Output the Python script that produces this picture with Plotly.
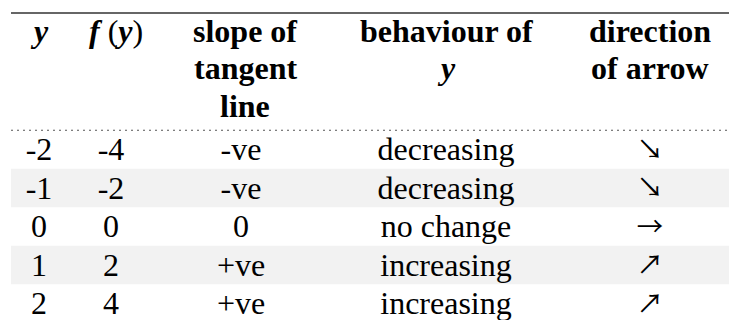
import plotly.graph_objects as go

# ---- data ----
y_values = ["-2", "-1", "0", "1", "2"]
f_values = ["-4", "-2", "0", "2", "4"]
slope_values = ["-ve", "-ve", "0", "+ve", "+ve"]
behaviour_values = ["decreasing", "decreasing", "no change", "increasing", "increasing"]
arrow_values = ["↘", "↘", "→", "↗", "↗"]

header_col1 = ["<b><i>y</i></b>"]
header_col2 = ["<b><i>f</i></b>\u2005(<b><i>y</i></b>)"]
header_col3 = ["<b>slope of</b>", "<b>tangent</b>", "<b>line</b>"]
header_col4 = ["<b>behaviour of</b>", "<b><i>y</i></b>"]
header_col5 = ["<b>direction</b>", "<b>of arrow</b>"]

# ---- layout constants (pixels) ----
W, H = 730, 320
left, right = 11, 729
row0_center = 149.5
row_pitch = 38.5
text_dy = 0.07
body_x = [39, 111, 241, 446, 650]
head_x = [39, 116, 245, 446, 650]
head_line_px = [31, 68, 106]
rule_px = 13

serif = "Liberation Serif"
arrow_font = "Noto Sans CJK JP"
band = "#f2f2f2"

columns = [y_values, f_values, slope_values, behaviour_values, arrow_values]
headers = [header_col1, header_col2, header_col3, header_col4, header_col5]
n = len(y_values)
rows = list(range(n))

fig = go.Figure()
for ci, col in enumerate(columns):
    is_arrow = ci == 4
    fig.add_trace(go.Scatter(
        x=[body_x[ci]] * n,
        y=[k + text_dy for k in rows],
        mode="text",
        text=col,
        textposition="middle center",
        textfont=dict(family=arrow_font if is_arrow else serif,
                      size=26.5 if is_arrow else 32, color="#000"),
        hoverinfo="skip",
        showlegend=False,
        cliponaxis=False,
    ))

# banded rows
for k in rows:
    if k % 2 == 1:
        fig.add_shape(type="rect", xref="paper", yref="y",
                      x0=left / W, x1=right / W, y0=k - 0.5, y1=k + 0.5,
                      fillcolor=band, line=dict(width=0), layer="below")

# rules
fig.add_shape(type="line", xref="paper", yref="paper",
              x0=left / W, x1=right / W, y0=1 - rule_px / H, y1=1 - rule_px / H,
              line=dict(color="#666666", width=2))
fig.add_shape(type="line", xref="paper", yref="y",
              x0=left / W, x1=right / W, y0=-0.5, y1=-0.5,
              line=dict(color="#555555", width=1, dash="2px,4px"))

# header cells
for ci, lines in enumerate(headers):
    for li, txt in enumerate(lines):
        fig.add_annotation(x=head_x[ci], xref="x", y=1 - head_line_px[li] / H, yref="paper",
                           text=txt, showarrow=False, xanchor="center", yanchor="middle",
                           font=dict(family=serif, size=32, color="#000"))

y_top = -row0_center / row_pitch
y_bot = (H - row0_center) / row_pitch
fig.update_layout(
    width=W, height=H,
    margin=dict(l=0, r=0, t=0, b=0),
    paper_bgcolor="white",
    plot_bgcolor="white",
    xaxis=dict(range=[0, W], visible=False, fixedrange=True),
    yaxis=dict(range=[y_bot, y_top], visible=False, fixedrange=True),
)

fig.write_html("out.html", config={"displayModeBar": False},
               post_script="document.body.style.margin='0';")
